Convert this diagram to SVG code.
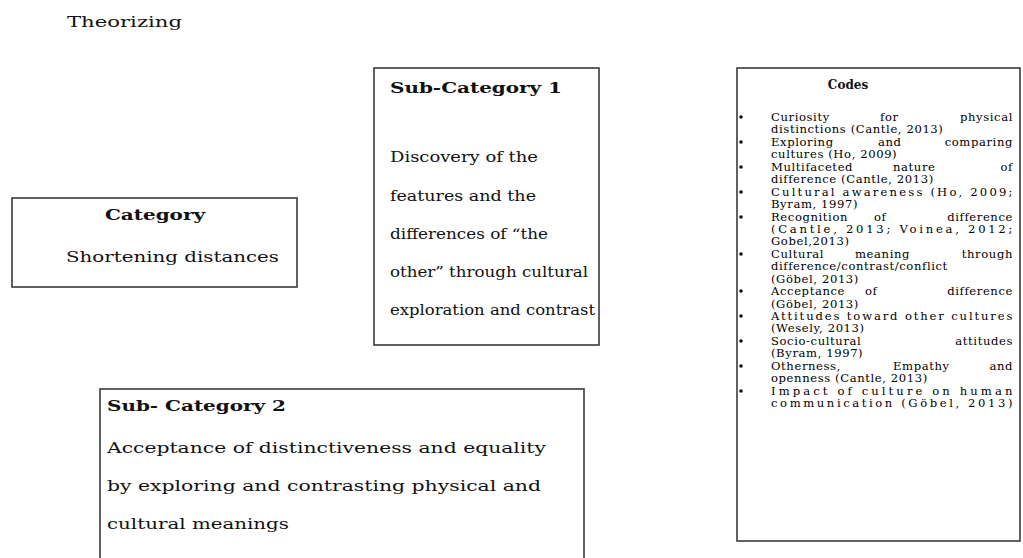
<svg xmlns="http://www.w3.org/2000/svg" width="1023" height="558" viewBox="0 0 1023 558">
<style>
.box{fill:#fff;stroke:#3a3a3a;stroke-width:1.6}
.t{font-family:"DejaVu Serif","Liberation Serif",serif;fill:#111}
.b{font-weight:bold}
.m{font-size:15px}
.c{font-size:11.6px;letter-spacing:0.6px;fill:#000}
.e{text-anchor:end}
</style>
<rect width="1023" height="558" fill="#fff"/>
<text class="t m" x="67" y="27" textLength="115" lengthAdjust="spacingAndGlyphs">Theorizing</text>

<g id="category">
<rect class="box" x="12" y="198" width="285" height="89"/>
<text class="t m b" x="105" y="220" textLength="100" lengthAdjust="spacingAndGlyphs">Category</text>
<text class="t m" x="66" y="262" textLength="213" lengthAdjust="spacingAndGlyphs">Shortening distances</text>
</g>

<g id="subcategory1">
<rect class="box" x="374" y="68" width="225" height="277"/>
<text class="t m b" x="390" y="93" textLength="172" lengthAdjust="spacingAndGlyphs">Sub-Category 1</text>
<text class="t m" x="390" y="162" textLength="148" lengthAdjust="spacingAndGlyphs">Discovery of the</text>
<text class="t m" x="390" y="201" textLength="146" lengthAdjust="spacingAndGlyphs">features and the</text>
<text class="t m" x="390" y="239" textLength="158" lengthAdjust="spacingAndGlyphs">differences of “the</text>
<text class="t m" x="390" y="277" textLength="198" lengthAdjust="spacingAndGlyphs">other” through cultural</text>
<text class="t m" x="390" y="315" textLength="205" lengthAdjust="spacingAndGlyphs">exploration and contrast</text>
</g>

<g id="subcategory2">
<rect class="box" x="100" y="389" width="484" height="180"/>
<text class="t m b" x="107" y="411" textLength="179" lengthAdjust="spacingAndGlyphs">Sub- Category 2</text>
<text class="t m" x="107" y="453" textLength="439" lengthAdjust="spacingAndGlyphs">Acceptance of distinctiveness and equality</text>
<text class="t m" x="107" y="491" textLength="434" lengthAdjust="spacingAndGlyphs">by exploring and contrasting physical and</text>
<text class="t m" x="107" y="529" textLength="182" lengthAdjust="spacingAndGlyphs">cultural meanings</text>
</g>

<g id="codes">
<rect class="box" x="737" y="68" width="283" height="473"/>
<text class="t b" x="848" y="89" text-anchor="middle" font-size="12">Codes</text>
<g fill="#111">
<circle cx="741" cy="117" r="1.8"/>
<circle cx="741" cy="142" r="1.8"/>
<circle cx="741" cy="167" r="1.8"/>
<circle cx="741" cy="192" r="1.8"/>
<circle cx="741" cy="217" r="1.8"/>
<circle cx="741" cy="254" r="1.8"/>
<circle cx="741" cy="291" r="1.8"/>
<circle cx="741" cy="316" r="1.8"/>
<circle cx="741" cy="341" r="1.8"/>
<circle cx="741" cy="366" r="1.8"/>
<circle cx="741" cy="391" r="1.8"/>
</g>
<g class="t c">
<text x="771" y="121">Curiosity</text><text x="880" y="121">for</text><text class="e" x="1013" y="121">physical</text>
<text x="771" y="133">distinctions (Cantle, 2013)</text>
<text x="771" y="146">Exploring</text><text x="878" y="146">and</text><text class="e" x="1013" y="146">comparing</text>
<text x="771" y="158">cultures (Ho, 2009)</text>
<text x="771" y="171">Multifaceted</text><text x="893" y="171">nature</text><text class="e" x="1013" y="171">of</text>
<text x="771" y="183">difference (Cantle, 2013)</text>
<text x="771" y="196" textLength="242" lengthAdjust="spacing">Cultural awareness (Ho, 2009;</text>
<text x="771" y="208">Byram, 1997)</text>
<text x="771" y="221">Recognition</text><text x="874" y="221">of</text><text class="e" x="1013" y="221">difference</text>
<text x="771" y="233" textLength="242" lengthAdjust="spacing">(Cantle, 2013; Voinea, 2012;</text>
<text x="771" y="245">Gobel,2013)</text>
<text x="771" y="258">Cultural</text><text x="855" y="258">meaning</text><text class="e" x="1013" y="258">through</text>
<text x="771" y="270">difference/contrast/conflict</text>
<text x="771" y="283">(Göbel, 2013)</text>
<text x="771" y="295">Acceptance</text><text x="865" y="295">of</text><text class="e" x="1013" y="295">difference</text>
<text x="771" y="308">(Göbel, 2013)</text>
<text x="771" y="320" textLength="242" lengthAdjust="spacing">Attitudes toward other cultures</text>
<text x="771" y="332">(Wesely, 2013)</text>
<text x="771" y="345">Socio-cultural</text><text class="e" x="1013" y="345">attitudes</text>
<text x="771" y="357">(Byram, 1997)</text>
<text x="771" y="370">Otherness,</text><text x="893" y="370">Empathy</text><text class="e" x="1013" y="370">and</text>
<text x="771" y="382">openness (Cantle, 2013)</text>
<text x="771" y="395" textLength="242" lengthAdjust="spacing">Impact of culture on human</text>
<text x="771" y="407" textLength="242" lengthAdjust="spacing">communication (Göbel, 2013)</text>
</g>
</g>
</svg>
